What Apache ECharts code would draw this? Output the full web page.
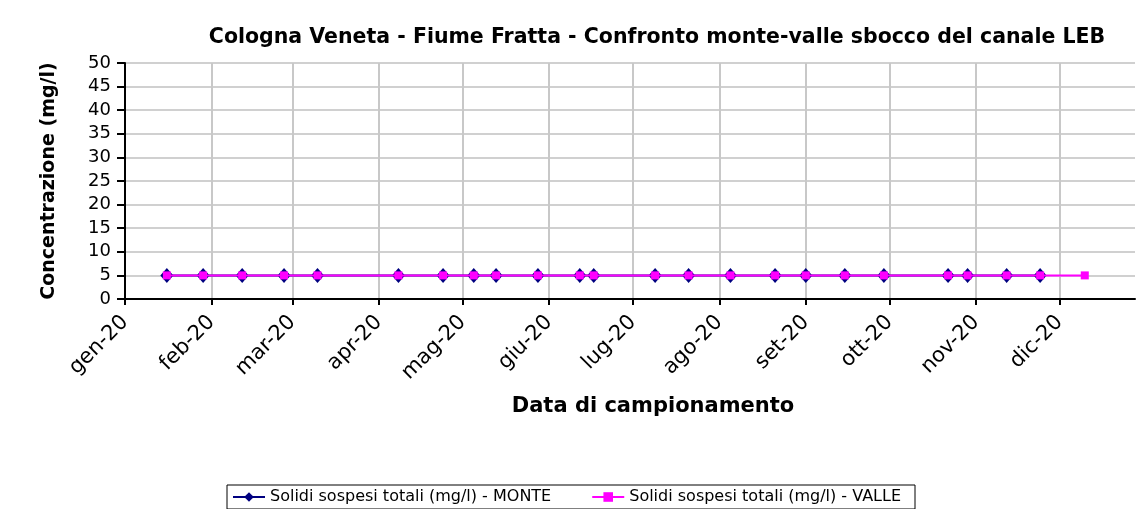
<!DOCTYPE html>
<html>
<head>
<meta charset="utf-8">
<script src="https://cdn.jsdelivr.net/npm/echarts@6/dist/echarts.min.js"></script>
<style>
  html, body { margin: 0; padding: 0; background: #ffffff; }
  #chart { width: 1137px; height: 509px; }
</style>
</head>
<body>
<div id="chart"></div>
<script>
// Month ticks of the date axis and their labels
const monthStarts = ['2020-01-01', '2020-02-01', '2020-03-01', '2020-04-01', '2020-05-01', '2020-06-01',
                     '2020-07-01', '2020-08-01', '2020-09-01', '2020-10-01', '2020-11-01', '2020-12-01'];
const monthLabels = ['gen-20', 'feb-20', 'mar-20', 'apr-20', 'mag-20', 'giu-20',
                     'lug-20', 'ago-20', 'set-20', 'ott-20', 'nov-20', 'dic-20'];

// Sampling dates and total suspended solids, upstream (MONTE)
const datesMonte = ['2020-01-16', '2020-01-29', '2020-02-12', '2020-02-27', '2020-03-10', '2020-04-08',
                    '2020-04-24', '2020-05-05', '2020-05-13', '2020-05-28', '2020-06-12', '2020-06-17',
                    '2020-07-09', '2020-07-21', '2020-08-05', '2020-08-21', '2020-09-01', '2020-09-15',
                    '2020-09-29', '2020-10-22', '2020-10-29', '2020-11-12', '2020-11-24'];
const valuesMonte = [5, 5, 5, 5, 5, 5, 5, 5, 5, 5, 5, 5, 5, 5, 5, 5, 5, 5, 5, 5, 5, 5, 5];

// Sampling dates and total suspended solids, downstream (VALLE)
const datesValle = ['2020-01-16', '2020-01-29', '2020-02-12', '2020-02-27', '2020-03-10', '2020-04-08',
                    '2020-04-24', '2020-05-05', '2020-05-13', '2020-05-28', '2020-06-12', '2020-06-17',
                    '2020-07-09', '2020-07-21', '2020-08-05', '2020-08-21', '2020-09-01', '2020-09-15',
                    '2020-09-29', '2020-10-22', '2020-10-29', '2020-11-12', '2020-11-24', '2020-12-10'];
const valuesValle = [5, 5, 5, 5, 5, 5, 5, 5, 5, 5, 5, 5, 5, 5, 5, 5, 5, 5, 5, 5, 5, 5, 5, 5];

// Axis extents
const xStart = '2020-01-01';
const xEnd = '2020-12-28';
const yMin = 0, yMax = 50, yStep = 5;

const seriesNames = ['Solidi sospesi totali (mg/l) - MONTE', 'Solidi sospesi totali (mg/l) - VALLE'];

// Dates are placed on a day-count axis measured from xStart
const DAY = 86400000;
function dayOf(s) {
  const p = s.split('-').map(Number);
  const q = xStart.split('-').map(Number);
  return Math.round((Date.UTC(p[0], p[1] - 1, p[2]) - Date.UTC(q[0], q[1] - 1, q[2])) / DAY);
}
const monthDays = monthStarts.map(dayOf);
const pairs = (dates, vals) => dates.map((d, i) => [dayOf(d), vals[i]]);

const FONT = 'DejaVu Sans';

const chart = echarts.init(document.getElementById('chart'), null, { renderer: 'canvas' });
chart.setOption({
  animation: false,
  backgroundColor: '#ffffff',
  textStyle: { fontFamily: FONT, color: '#000000' },
  title: {
    text: 'Cologna Veneta - Fiume Fratta - Confronto monte-valle sbocco del canale LEB',
    left: 652,
    top: 22,
    textAlign: 'center',
    textStyle: { fontFamily: FONT, fontSize: 20.5, fontWeight: 'bold', color: '#000000' }
  },
  grid: { left: 125, right: 2, top: 63, bottom: 210 },
  legend: {
    left: 227,
    top: 485,
    padding: [4, 14, 4, 5],
    itemGap: 40,
    itemWidth: 32,
    itemHeight: 12,
    borderColor: '#000000',
    borderWidth: 1,
    textStyle: { fontFamily: FONT, fontSize: 16, color: '#000000' },
    data: seriesNames
  },
  xAxis: {
    type: 'value',
    min: 0,
    max: dayOf(xEnd),
    name: 'Data di campionamento',
    nameLocation: 'middle',
    nameGap: 97,
    nameTextStyle: { fontFamily: FONT, fontSize: 21, fontWeight: 'bold', color: '#000000', padding: [0, 0, 0, 46] },
    axisLine: { show: true, onZero: false, lineStyle: { color: '#000000', width: 2 } },
    axisTick: { show: true, length: 6, lineStyle: { color: '#000000', width: 2 }, customValues: monthDays },
    axisLabel: {
      customValues: monthDays,
      rotate: 45,
      margin: 20,
      fontFamily: FONT,
      fontSize: 21,
      color: '#000000',
      formatter: function (v) {
        const i = monthDays.indexOf(Math.round(v));
        return i >= 0 ? monthLabels[i] : '';
      }
    },
    splitLine: { show: true, lineStyle: { color: '#c8c8c8', width: 2 } }
  },
  yAxis: {
    type: 'value',
    min: yMin,
    max: yMax,
    interval: yStep,
    name: 'Concentrazione (mg/l)',
    nameLocation: 'middle',
    nameGap: 66,
    nameTextStyle: { fontFamily: FONT, fontSize: 19, fontWeight: 'bold', color: '#000000' },
    axisLine: { show: true, lineStyle: { color: '#000000', width: 2 } },
    axisTick: { show: true, length: 8, lineStyle: { color: '#000000', width: 2 } },
    axisLabel: { margin: 14, fontFamily: FONT, fontSize: 18, color: '#000000' },
    splitLine: { show: true, lineStyle: { color: '#c0c0c0', width: 1.5 } }
  },
  series: [
    {
      name: seriesNames[0],
      type: 'line',
      data: pairs(datesMonte, valuesMonte),
      symbol: 'diamond',
      symbolSize: [13, 15],
      showAllSymbol: true,
      lineStyle: { color: '#000080', width: 2 },
      itemStyle: { color: '#000080' },
      z: 2
    },
    {
      name: seriesNames[1],
      type: 'line',
      data: pairs(datesValle, valuesValle),
      symbol: 'rect',
      symbolSize: [8, 8],
      showAllSymbol: true,
      lineStyle: { color: '#ff00ff', width: 2 },
      itemStyle: { color: '#ff00ff' },
      z: 3
    }
  ]
});
</script>
</body>
</html>
